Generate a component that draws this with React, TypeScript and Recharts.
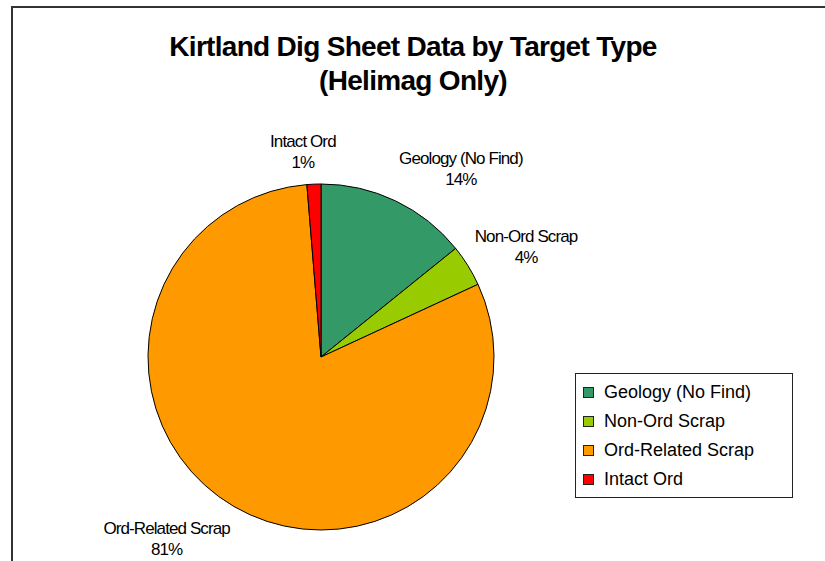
import React from 'react';
import { PieChart, Pie, Cell, Legend } from 'recharts';

const titleLines = ['Kirtland Dig Sheet Data by Target Type', '(Helimag Only)'];
const categories = ['Geology (No Find)', 'Non-Ord Scrap', 'Ord-Related Scrap', 'Intact Ord'];
const values = [14.2, 3.9, 80.6, 1.3];
const colors = ['#339966', '#99CC00', '#FF9900', '#FF0000'];

const data = categories.map((name, i) => ({ name, value: values[i] }));

const FONT = '"Liberation Sans", Arial, sans-serif';
const LABEL_SIZE = 17;
const LABEL_SPACING = -0.9;

let canvasCtx: CanvasRenderingContext2D | null = null;
function measure(text: string, size: number, spacing: number, weight = 'normal') {
  if (!canvasCtx) {
    const c = document.createElement('canvas');
    canvasCtx = c.getContext('2d');
  }
  if (!canvasCtx) return text.length * size * 0.5;
  canvasCtx.font = `${weight} ${size}px "Liberation Sans"`;
  return canvasCtx.measureText(text).width + spacing * text.length;
}

const clamp = (v: number) => Math.max(-1, Math.min(1, v));

const renderLabel = (props: any) => {
  const { cx, cy, midAngle, outerRadius, percent, name } = props;
  const RAD = Math.PI / 180;
  const hx = Math.cos(midAngle * RAD);
  const vy = Math.sin(midAngle * RAD);
  const R = outerRadius + 8;
  const px = cx + R * hx;
  const py = cy - R * vy;
  const pct = `${Math.round(percent * 100)}%`;
  const w = Math.max(measure(name, LABEL_SIZE, LABEL_SPACING), measure(pct, LABEL_SIZE, LABEL_SPACING));
  const h = 50;
  const lx = px + (w / 2) * clamp(hx * 8);
  const ly = py - (h / 2) * clamp(vy * 1.15);
  return (
    <g>
      <text x={lx} y={ly - 10} textAnchor="middle" dominantBaseline="central"
        style={{ fontFamily: FONT, fontSize: LABEL_SIZE, letterSpacing: LABEL_SPACING }} fill="#000">
        {name}
      </text>
      <text x={lx} y={ly + 11} textAnchor="middle" dominantBaseline="central"
        style={{ fontFamily: FONT, fontSize: LABEL_SIZE, letterSpacing: LABEL_SPACING }} fill="#000">
        {pct}
      </text>
    </g>
  );
};

const LegendContent = () => {
  return (
    <div style={{
      border: '1px solid #222', background: '#fff', width: 216, height: 119,
      boxSizing: 'content-box', paddingTop: 4, fontFamily: FONT,
    }}>
      {categories.map((name, i) => (
        <div key={name} style={{ display: 'flex', alignItems: 'center', height: 29, paddingLeft: 7 }}>
          <span style={{
            display: 'inline-block', width: 9, height: 9, background: colors[i],
            border: '1px solid #222', marginRight: 10,
          }} />
          <span style={{ fontSize: 18, color: '#000', whiteSpace: 'nowrap' }}>{name}</span>
        </div>
      ))}
    </div>
  );
};

export default function App() {
  return (
    <div style={{ position: 'absolute', left: 0, top: 0, width: 825, height: 561, overflow: 'hidden', background: '#fff' }}>
      <div style={{
        position: 'absolute', left: 11, top: 6, width: 1000, height: 1000,
        border: '2px solid #333',
      }} />
      <svg width={825} height={120} style={{ position: 'absolute', left: 0, top: 0 }}>
        {titleLines.map((t, i) => (
          <text key={i} x={413} y={56 + i * 34} textAnchor="middle"
            style={{ fontFamily: FONT, fontSize: 28, fontWeight: 'bold', letterSpacing: -0.7 }} fill="#000">
            {t}
          </text>
        ))}
      </svg>
      <div style={{ position: 'absolute', left: 0, top: 0 }}>
        <PieChart width={825} height={561} margin={{ top: 0, right: 0, bottom: 0, left: 0 }}>
          <Pie
            data={data}
            dataKey="value"
            nameKey="name"
            cx={321}
            cy={357}
            outerRadius={173}
            startAngle={90}
            endAngle={-270}
            stroke="#000"
            strokeWidth={1}
            label={renderLabel}
            labelLine={false}
            isAnimationActive={false}
          >
            {data.map((d, i) => (
              <Cell key={d.name} fill={colors[i]} />
            ))}
          </Pie>
          <Legend
            layout="vertical"
            align="right"
            verticalAlign="top"
            content={<LegendContent />}
            wrapperStyle={{ position: 'absolute', left: 575, top: 373, width: 'auto', bottom: 'auto', right: 'auto' }}
          />
        </PieChart>
      </div>
    </div>
  );
}
